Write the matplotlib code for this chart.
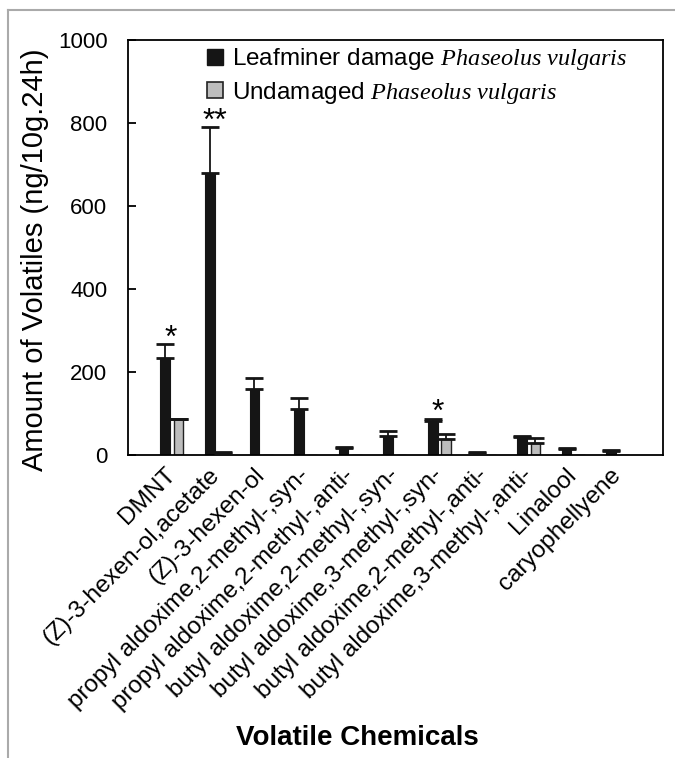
import numpy as np
import matplotlib
matplotlib.use('Agg')
import matplotlib.pyplot as plt
from matplotlib.patches import Patch
from matplotlib.lines import Line2D

plt.rcParams['font.family'] = ['Liberation Sans', 'DejaVu Sans']
plt.rcParams['mathtext.fontset'] = 'custom'
plt.rcParams['mathtext.it'] = 'Liberation Serif:italic'
plt.rcParams['mathtext.rm'] = 'Liberation Serif'

#%% data
chemicals = ['DMNT', '(Z)-3-hexen-ol,acetate', '(Z)-3-hexen-ol',
             'propyl aldoxime,2-methyl-,syn-', 'propyl aldoxime,2-methyl-,anti-',
             'butyl aldoxime,2-methyl-,syn-', 'butyl aldoxime,3-methyl-,syn-',
             'butyl aldoxime,2-methyl-,anti-', 'butyl aldoxime,3-methyl-,anti-',
             'Linalool', 'caryophellyene']
damaged = [234, 680, 160, 111, 16, 47, 83, 4, 44, 14, 10]
damaged_err = [33, 110, 26, 26, 4, 10, 5, 3, 2, 2, 2]
undamaged = [86, 4, 0, 0, 0, 0, 38, 0, 28, 0, 0]
undamaged_err = [2, 4, 0, 0, 0, 0, 13, 0, 14, 0, 0]
signif = ['*', '**', '', '', '', '', '*', '', '', '', '']
yticks = [0, 200, 400, 600, 800, 1000]

#%% plot
fig = plt.figure(figsize=(6.75, 7.58), dpi=100)
ax = fig.add_axes([0.190, 0.3997, 0.792, 0.5475])

x = np.arange(len(chemicals))
w = 0.215
off = 0.30

ax.bar(x, damaged, w, color='#151515', edgecolor='#151515', linewidth=0.8, zorder=2)
ax.bar(x + off, undamaged, w, color='#bdbdbd', edgecolor='#222222', linewidth=1.0, zorder=2)

d = np.array(damaged, dtype=float)
de = np.array(damaged_err, dtype=float)
ax.errorbar(x, d, yerr=[np.zeros_like(de), de], fmt='none', ecolor='#151515',
            elinewidth=1.3, capsize=6.8, capthick=2.0, zorder=3)

u = np.array(undamaged, dtype=float)
ue = np.array(undamaged_err, dtype=float)
m = u > 0
ax.errorbar(x[m] + off, u[m], yerr=[np.zeros(m.sum()), ue[m]], fmt='none', ecolor='#151515',
            elinewidth=1.3, capsize=6.2, capthick=2.0, zorder=3)

# significance stars
for i, s in enumerate(signif):
    if s:
        top = max(d[i] + de[i], u[i] + ue[i])
        ax.annotate(s, (x[i] + 0.12, top), xytext=(0, -7), textcoords='offset points',
                    ha='center', va='bottom', fontsize=23)

ax.set_xlim(-0.83, 11.16)
ax.set_ylim(0, 1000)
ax.set_yticks(yticks)
ax.set_yticklabels([str(t) for t in yticks], fontsize=16)
ax.tick_params(axis='y', direction='in', length=6, width=1.3, pad=15, right=False)
ax.set_xticks(x + 0.15)
ax.set_xticklabels(chemicals, rotation=45, ha='right', va='center',
                   rotation_mode='anchor', fontsize=17.5)
ax.tick_params(axis='x', length=0, pad=12)
for sp in ax.spines.values():
    sp.set_linewidth(1.3)

ax.set_ylabel('Amount of Volatiles (ng/10g.24h)', fontsize=21)
ax.yaxis.set_label_coords(-0.148, 0.47)
ax.set_xlabel('Volatile Chemicals', fontsize=20, fontweight='bold')
ax.xaxis.set_label_coords(0.428, -0.65)

handles = [Patch(facecolor='#151515', edgecolor='#151515'),
           Patch(facecolor='#bdbdbd', edgecolor='#222222', linewidth=1.2)]
labels = [r'Leafminer damage $\mathit{Phaseolus\ vulgaris}$',
          r'Undamaged $\mathit{Phaseolus\ vulgaris}$']
ax.legend(handles, labels, loc='upper left', bbox_to_anchor=(0.147, 0.985),
          frameon=False, fontsize=17.5, handlelength=0.65, handleheight=0.65,
          handletextpad=0.4, labelspacing=0.3, borderpad=0, borderaxespad=0)

# grey frame around the figure (top and left)
fig.add_artist(Line2D([8 / 675, 1], [1 - 10 / 758] * 2, transform=fig.transFigure,
                      color='#aaaaaa', lw=1.5))
fig.add_artist(Line2D([8 / 675] * 2, [0, 1 - 10 / 758], transform=fig.transFigure,
                      color='#aaaaaa', lw=1.5))

fig.savefig('out.png', dpi=100)
